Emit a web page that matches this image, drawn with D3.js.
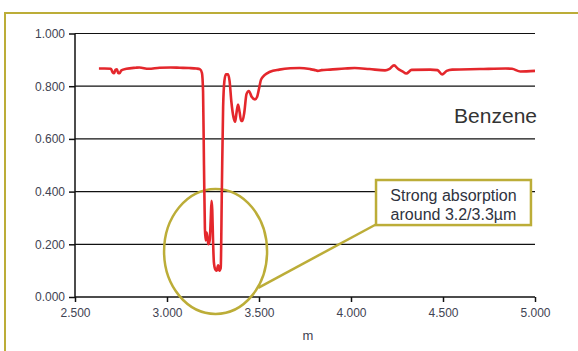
<!DOCTYPE html>
<meta charset="utf-8">
<style>
body { margin: 0; background: #fff; }
svg { display: block; font-family: "Liberation Sans", Arial, Helvetica, sans-serif; }
.tick text { font-size: 12px; fill: #3f4352; }
</style>
<svg width="578" height="351"></svg>
<script src="https://d3js.org/d3.v7.min.js"></script>
<script>

// wavelength (µm) and transmission
var wavelength = [2.630, 2.660, 2.695, 2.705, 2.712, 2.720, 2.728, 2.735, 2.742, 2.752, 2.780, 2.830, 2.850, 2.900, 2.960, 3.020, 3.070, 3.120, 3.160, 3.180, 3.190,
  3.196, 3.201, 3.206, 3.210, 3.215, 3.220, 3.225, 3.232, 3.238, 3.242, 3.246, 3.250, 3.255, 3.262, 3.270, 3.278, 3.285, 3.292,
  3.298, 3.305, 3.312, 3.320, 3.332, 3.340, 3.350, 3.362, 3.370, 3.378, 3.386, 3.395, 3.403, 3.410, 3.420, 3.432, 3.445, 3.460, 3.478, 3.490, 3.500, 3.511, 3.530, 3.560, 3.610,
  3.670, 3.720, 3.777, 3.800, 3.820, 3.840, 3.886, 3.967, 4.020, 4.100, 4.185, 4.210, 4.234, 4.255, 4.280, 4.300, 4.330,
  4.430, 4.470, 4.495, 4.520, 4.550, 4.700, 4.840, 4.875, 4.920, 5.000];
var transmission = [0.867, 0.867, 0.866, 0.852, 0.849, 0.862, 0.864, 0.850, 0.849, 0.860, 0.866, 0.870, 0.871, 0.866, 0.870, 0.871, 0.870, 0.869, 0.867, 0.864, 0.850,
  0.780, 0.500, 0.260, 0.215, 0.245, 0.225, 0.200, 0.215, 0.300, 0.365, 0.330, 0.220, 0.130, 0.105, 0.100, 0.120, 0.100, 0.110,
  0.400, 0.720, 0.820, 0.845, 0.845, 0.820, 0.740, 0.680, 0.665, 0.700, 0.730, 0.700, 0.668, 0.668, 0.700, 0.770, 0.782, 0.760, 0.750, 0.760, 0.790, 0.825, 0.842, 0.855, 0.863,
  0.868, 0.869, 0.865, 0.862, 0.858, 0.861, 0.863, 0.867, 0.869, 0.865, 0.860, 0.866, 0.879, 0.866, 0.856, 0.848, 0.862,
  0.863, 0.861, 0.845, 0.858, 0.863, 0.865, 0.867, 0.866, 0.856, 0.858];

var xTicks = [2.5, 3.0, 3.5, 4.0, 4.5, 5.0];
var yTicks = [0, 0.2, 0.4, 0.6, 0.8, 1.0];

var seriesName = "Benzene";
var axisTitle = "m";
var noteLines = ["Strong absorption", "around 3.2/3.3\u00b5m"];

var svg = d3.select("svg"),
    olive = "#bcad38";

var x = d3.scaleLinear().domain([2.5, 5.0]).range([75, 535]);
var y = d3.scaleLinear().domain([0, 1.0]).range([297, 33.5]);

// outer frame (runs off the right and bottom of the picture)
svg.append("rect")
    .attr("x", 5).attr("y", 13)
    .attr("width", 620).attr("height", 400)
    .attr("fill", "none")
    .attr("stroke", olive)
    .attr("stroke-width", 2);

// horizontal grid
svg.append("g")
  .selectAll("line")
  .data(yTicks.slice(1))
  .enter().append("line")
    .attr("x1", x(2.5)).attr("x2", x(5.0))
    .attr("y1", function(d) { return y(d); })
    .attr("y2", function(d) { return y(d); })
    .attr("stroke", "#111")
    .attr("stroke-width", 1.2);

var yAxis = svg.append("g")
    .attr("transform", "translate(" + x(2.5) + ",0)")
    .call(d3.axisLeft(y).tickValues(yTicks).tickFormat(d3.format(".3f")).tickSize(6).tickPadding(4));

var xAxis = svg.append("g")
    .attr("transform", "translate(0," + y(0) + ")")
    .call(d3.axisBottom(x).tickValues(xTicks).tickFormat(d3.format(".3f")).tickSize(5).tickPadding(6));

svg.selectAll(".domain").attr("stroke", "#111").attr("stroke-width", 1.5);
svg.selectAll(".tick line").attr("stroke", "#111").attr("stroke-width", 1.5);
yAxis.select(".domain").attr("d", "M0," + y(0) + "V" + y(1));
xAxis.select(".domain").attr("d", "M" + x(2.5) + ",0H" + x(5.0));

svg.append("text")
    .attr("x", 308).attr("y", 340)
    .attr("text-anchor", "middle")
    .attr("font-size", 13)
    .attr("fill", "#3f4352")
    .text(axisTitle);

// highlight ellipse and connector
svg.append("ellipse")
    .attr("cx", x(3.264)).attr("cy", y(0.173))
    .attr("rx", 51.5).attr("ry", 62.5)
    .attr("fill", "none")
    .attr("stroke", olive)
    .attr("stroke-width", 2.5);

svg.append("line")
    .attr("x1", x(3.496)).attr("y1", y(0.035))
    .attr("x2", x(4.14)).attr("y2", y(0.277))
    .attr("stroke", olive)
    .attr("stroke-width", 2.5);

var line = d3.line()
    .x(function(d) { return x(d[0]); })
    .y(function(d) { return y(d[1]); })
    .curve(d3.curveMonotoneX);

svg.append("path")
    .datum(d3.zip(wavelength, transmission))
    .attr("d", line)
    .attr("fill", "none")
    .attr("stroke", "#e4272c")
    .attr("stroke-width", 2.6)
    .attr("stroke-linejoin", "round");

svg.append("text")
    .attr("x", 537).attr("y", 123)
    .attr("text-anchor", "end")
    .attr("font-size", 21)
    .attr("font-weight", 300)
    .attr("fill", "#333")
    .text(seriesName);

// callout box
var bx0 = x(4.136), bx1 = x(4.978), by0 = y(0.444), by1 = y(0.273);
svg.append("rect")
    .attr("x", bx0).attr("y", by0)
    .attr("width", bx1 - bx0).attr("height", by1 - by0)
    .attr("fill", "#fff")
    .attr("stroke", olive)
    .attr("stroke-width", 2.5);

svg.append("text")
    .attr("text-anchor", "middle")
    .attr("font-size", 16)
    .attr("fill", "#2f3340")
  .selectAll("tspan")
  .data(noteLines)
  .enter().append("tspan")
    .attr("x", (bx0 + bx1) / 2)
    .attr("y", function(d, i) { return by0 + 21 + i * 19; })
    .text(function(d) { return d; });

</script>
